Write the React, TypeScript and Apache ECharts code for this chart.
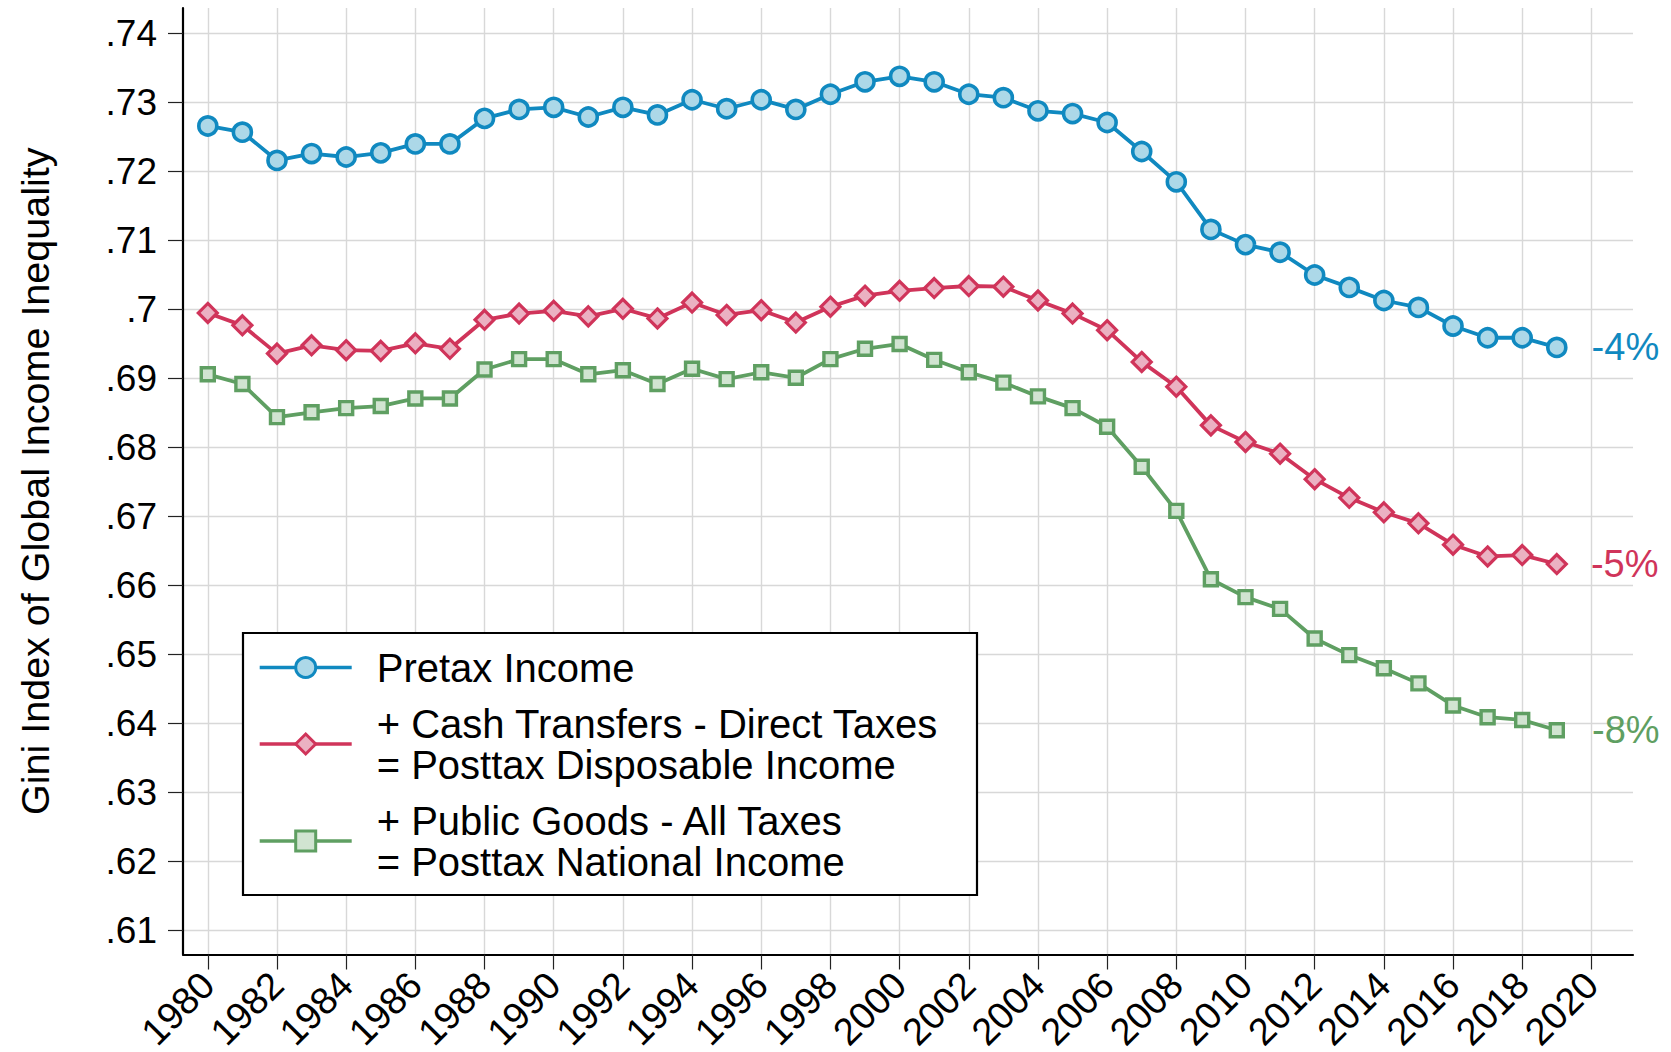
import React, { useEffect, useRef } from 'react';
import * as echarts from 'echarts';

const years = [
  1980, 1981, 1982, 1983, 1984, 1985, 1986, 1987, 1988, 1989,
  1990, 1991, 1992, 1993, 1994, 1995, 1996, 1997, 1998, 1999,
  2000, 2001, 2002, 2003, 2004, 2005, 2006, 2007, 2008, 2009,
  2010, 2011, 2012, 2013, 2014, 2015, 2016, 2017, 2018, 2019,
];

const pretaxIncome = [
  0.7266, 0.7257, 0.7216, 0.7226, 0.7221, 0.7227, 0.7240, 0.7240, 0.7277, 0.7290,
  0.7293, 0.7279, 0.7293, 0.7282, 0.7304, 0.7291, 0.7304, 0.7290, 0.7312, 0.7330,
  0.7338, 0.7330, 0.7312, 0.7307, 0.7288, 0.7284, 0.7271, 0.7229, 0.7185, 0.7116,
  0.7094, 0.7083, 0.7050, 0.7032, 0.7013, 0.7003, 0.6976, 0.6959, 0.6959, 0.6945,
];

const posttaxDisposable = [
  0.6995, 0.6977, 0.6936, 0.6948, 0.6941, 0.6940, 0.6951, 0.6943, 0.6985, 0.6994,
  0.6998, 0.6990, 0.7001, 0.6987, 0.7010, 0.6992, 0.6999, 0.6981, 0.7004, 0.7020,
  0.7027, 0.7031, 0.7034, 0.7033, 0.7013, 0.6994, 0.6970, 0.6924, 0.6888, 0.6832,
  0.6808, 0.6791, 0.6754, 0.6727, 0.6706, 0.6690, 0.6659, 0.6642, 0.6644, 0.6631,
];

const posttaxNational = [
  0.6906, 0.6892, 0.6844, 0.6851, 0.6857, 0.6860, 0.6871, 0.6871, 0.6913, 0.6928,
  0.6928, 0.6906, 0.6912, 0.6892, 0.6914, 0.6899, 0.6909, 0.6901, 0.6928, 0.6943,
  0.6950, 0.6927, 0.6909, 0.6894, 0.6874, 0.6857, 0.6830, 0.6772, 0.6708, 0.6609,
  0.6583, 0.6566, 0.6523, 0.6499, 0.6480, 0.6458, 0.6426, 0.6409, 0.6405, 0.6390,
];

const seriesNames = [
  'Pretax Income',
  '+ Cash Transfers - Direct Taxes\n= Posttax Disposable Income',
  '+ Public Goods - All Taxes\n= Posttax National Income',
];

const endLabels = ['-4%', '-5%', '-8%'];

const xTickValues = [
  1980, 1982, 1984, 1986, 1988, 1990, 1992, 1994, 1996, 1998, 2000,
  2002, 2004, 2006, 2008, 2010, 2012, 2014, 2016, 2018, 2020,
];

const yTickValues = [
  0.61, 0.62, 0.63, 0.64, 0.65, 0.66, 0.67, 0.68, 0.69, 0.7, 0.71, 0.72, 0.73, 0.74,
];

const yAxisTitle = 'Gini Index of Global Income Inequality';

const FONT = '"Liberation Sans", Arial, Helvetica, sans-serif';

const styles = [
  { line: '#1089c0', fill: '#acd8e8', symbol: 'circle', size: 18, border: 3.6, dist: 24 },
  { line: '#d0345a', fill: '#ebb1c2', symbol: 'diamond', size: 19, border: 3.2, dist: 23 },
  { line: '#5f9f62', fill: '#d1e4d1', symbol: 'rect', size: 13, border: 3.4, dist: 27 },
];

function buildData(values: number[], label: string, color: string, dist: number) {
  return values.map((v, i) => {
    if (i === values.length - 1) {
      return {
        value: [years[i], v],
        label: {
          show: true,
          position: 'right',
          distance: dist,
          formatter: label,
          color,
          fontSize: 38,
          fontFamily: FONT,
        },
      };
    }
    return [years[i], v];
  });
}

export default function App() {
  const ref = useRef<HTMLDivElement>(null);

  useEffect(() => {
    if (!ref.current) return;
    const chart = echarts.init(ref.current, null, { renderer: 'svg' });
    const allValues = [pretaxIncome, posttaxDisposable, posttaxNational];

    const series = allValues.map((vals, k) => ({
      type: 'line',
      name: seriesNames[k],
      data: buildData(vals, endLabels[k], styles[k].line, styles[k].dist),
      symbol: styles[k].symbol,
      symbolSize: styles[k].size,
      showAllSymbol: true,
      lineStyle: { color: styles[k].line, width: 3.8 },
      itemStyle: { color: styles[k].fill, borderColor: styles[k].line, borderWidth: styles[k].border },
      emphasis: { disabled: true },
      z: 3,
    }));

    const gridLine = { show: true, lineStyle: { color: '#d8d8d8', width: 1.4 } };

    chart.setOption({
      animation: false,
      backgroundColor: '#ffffff',
      textStyle: { fontFamily: FONT },
      grid: {
        left: 183,
        top: 8,
        right: 38,
        bottom: 97.5,
        containLabel: false,
        outerBoundsMode: 'none',
      },
      xAxis: {
        type: 'value',
        min: 1979.283,
        max: 2021.203,
        axisLine: { show: true, onZero: false, lineStyle: { color: '#000', width: 2.2 } },
        axisTick: {
          show: true,
          length: 15,
          customValues: xTickValues,
          lineStyle: { color: '#222', width: 1.2 },
        },
        axisLabel: {
          customValues: xTickValues,
          rotate: 45,
          margin: 24,
          fontSize: 38,
          color: '#000',
          fontFamily: FONT,
          formatter: (v: number) => String(Math.round(v)),
        },
        splitLine: gridLine,
      },
      yAxis: {
        type: 'value',
        min: 0.6065,
        max: 0.7437,
        name: yAxisTitle,
        nameLocation: 'middle',
        nameRotate: 90,
        nameGap: 128,
        nameTextStyle: { fontSize: 39.5, color: '#000', fontFamily: FONT },
        axisLine: { show: true, onZero: false, lineStyle: { color: '#000', width: 2.2 } },
        axisTick: {
          show: true,
          length: 15,
          customValues: yTickValues,
          lineStyle: { color: '#222', width: 1.2 },
        },
        axisLabel: {
          customValues: yTickValues,
          margin: 26,
          fontSize: 37,
          color: '#000',
          fontFamily: FONT,
          formatter: (v: number) => String(+v.toFixed(2)).replace(/^0\./, '.'),
        },
        splitLine: gridLine,
      },
      legend: {
        orient: 'vertical',
        left: 258,
        top: 647,
        padding: 0,
        itemGap: 15,
        itemWidth: 92,
        itemHeight: 25,
        selectedMode: false,
        z: 10,
        data: seriesNames,
        lineStyle: { width: 3.4 },
        itemStyle: { borderWidth: 3 },
        textStyle: {
          fontSize: 40,
          lineHeight: 41,
          color: '#000',
          fontFamily: FONT,
          padding: [0, 0, 0, 20],
        },
      },
      graphic: [
        {
          type: 'rect',
          z: 5,
          shape: { x: 243, y: 633, width: 734, height: 262 },
          style: { fill: '#ffffff', stroke: '#000000', lineWidth: 2.2 },
        },
      ],
      series,
    });

    return () => {
      chart.dispose();
    };
  }, []);

  return (
    <div
      ref={ref}
      style={{ position: 'absolute', left: 0, top: 0, width: 1671, height: 1052 }}
    />
  );
}
